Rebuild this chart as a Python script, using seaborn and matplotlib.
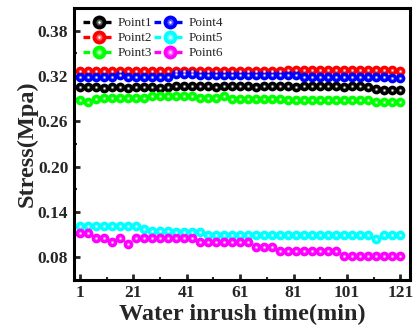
import numpy as np
import pandas as pd
import matplotlib
matplotlib.use("Agg")
import matplotlib.pyplot as plt
import seaborn as sns
from matplotlib.legend_handler import HandlerTuple
from matplotlib.lines import Line2D
from matplotlib.colors import to_rgb

# ---------------- data ----------------
time_min = list(range(1, 122, 3))  # 41 points

point1 = [0.305, 0.305, 0.305, 0.304, 0.305, 0.305, 0.304, 0.305, 0.305, 0.305, 0.304, 0.305,
          0.307, 0.307, 0.307, 0.307, 0.307, 0.306, 0.307, 0.307, 0.307, 0.307, 0.306, 0.307,
          0.307, 0.307, 0.307, 0.306, 0.307, 0.307, 0.307, 0.307, 0.307, 0.306, 0.307, 0.307,
          0.306, 0.303, 0.302, 0.302, 0.302]
point2 = [0.327, 0.327, 0.327, 0.327, 0.327, 0.327, 0.327, 0.327, 0.327, 0.327, 0.327, 0.327,
          0.327, 0.327, 0.327, 0.327, 0.327, 0.327, 0.327, 0.327, 0.327, 0.327, 0.327, 0.327,
          0.327, 0.327, 0.328, 0.328, 0.328, 0.328, 0.328, 0.328, 0.328, 0.328, 0.328, 0.328,
          0.328, 0.328, 0.328, 0.328, 0.327]
point3 = [0.288, 0.286, 0.289, 0.291, 0.291, 0.291, 0.291, 0.291, 0.291, 0.293, 0.293, 0.293,
          0.293, 0.293, 0.293, 0.291, 0.291, 0.291, 0.293, 0.290, 0.290, 0.290, 0.290, 0.290,
          0.290, 0.290, 0.288, 0.288, 0.288, 0.288, 0.288, 0.288, 0.288, 0.288, 0.288, 0.288,
          0.288, 0.285, 0.285, 0.285, 0.285]
point4 = [0.319, 0.319, 0.319, 0.319, 0.319, 0.321, 0.319, 0.319, 0.319, 0.319, 0.319, 0.319,
          0.323, 0.323, 0.323, 0.321, 0.321, 0.321, 0.321, 0.321, 0.321, 0.321, 0.321, 0.321,
          0.321, 0.321, 0.321, 0.321, 0.319, 0.319, 0.319, 0.319, 0.319, 0.319, 0.319, 0.319,
          0.319, 0.319, 0.319, 0.317, 0.317]
point5 = [0.121, 0.121, 0.121, 0.121, 0.121, 0.121, 0.121, 0.121, 0.118, 0.115, 0.115, 0.115,
          0.113, 0.113, 0.113, 0.113, 0.110, 0.110, 0.110, 0.110, 0.110, 0.110, 0.110, 0.110,
          0.110, 0.110, 0.110, 0.110, 0.110, 0.110, 0.110, 0.110, 0.110, 0.110, 0.110, 0.110,
          0.110, 0.104, 0.110, 0.110, 0.110]
point6 = [0.112, 0.112, 0.106, 0.106, 0.100, 0.106, 0.097, 0.106, 0.106, 0.106, 0.106, 0.106,
          0.106, 0.106, 0.106, 0.100, 0.100, 0.100, 0.100, 0.100, 0.100, 0.100, 0.093, 0.093,
          0.093, 0.088, 0.088, 0.088, 0.088, 0.088, 0.088, 0.088, 0.088, 0.081, 0.081, 0.081,
          0.081, 0.081, 0.081, 0.081, 0.081]

series_names = ["Point1", "Point2", "Point3", "Point4", "Point5", "Point6"]
series_values = [point1, point2, point3, point4, point5, point6]
series_colors = ["#000000", "#FF0000", "#00FF00", "#0000FF", "#00FFFF", "#FF00FF"]

x_ticks = [1, 21, 41, 61, 81, 101, 121]
y_ticks = [0.08, 0.14, 0.20, 0.26, 0.32, 0.38]

# ---------------- style ----------------
sns.set_style("ticks")
plt.rcParams["font.family"] = ["Liberation Serif", "DejaVu Serif"]

fig = plt.figure(figsize=(4.13, 3.34), dpi=100)
ax = fig.add_axes([0.179, 0.162, 0.814, 0.814])

def lighten(c, f):
    r, g, b = to_rgb(c)
    return (r + (1 - r) * f, g + (1 - g) * f, b + (1 - b) * f)

handles = []
for name, vals, col in zip(series_names, series_values, series_colors):
    df = pd.DataFrame({"t": time_min, "v": vals})
    sns.lineplot(data=df, x="t", y="v", ax=ax, color=col, linestyle="--", linewidth=1.2,
                 marker="o", markersize=7, markeredgewidth=0, legend=False)
    sns.scatterplot(data=df, x="t", y="v", ax=ax, color=lighten(col, 0.35), s=6,
                    linewidth=0, legend=False, zorder=3)
    sns.scatterplot(data=df, x="t", y="v", ax=ax, color="white", s=1.5,
                    linewidth=0, legend=False, zorder=3)
    h1 = Line2D([], [], color=col, linestyle="--", linewidth=2.4, marker="o",
                markersize=10, markeredgewidth=0, dashes=(2.0, 1.2))
    h2 = Line2D([], [], linestyle="none", marker="o", markersize=4.5,
                color=lighten(col, 0.35), markeredgewidth=0)
    h3 = Line2D([], [], linestyle="none", marker="o", markersize=1.8,
                color="white", markeredgewidth=0)
    handles.append((h1, h2, h3))

ax.set_xlim(-1.3, 124.7)
ax.set_ylim(0.05, 0.41)
ax.set_xticks(x_ticks)
ax.set_yticks(y_ticks)
ax.set_xticks([11, 31, 51, 71, 91, 111], minor=True)
ax.set_yticks([0.11, 0.17, 0.23, 0.29, 0.35], minor=True)
ax.set_xticklabels([str(v) for v in x_ticks], fontsize=12.5, fontweight="bold")
ax.set_yticklabels([f"{v:.2f}" for v in y_ticks], fontsize=12.5, fontweight="bold")
ax.tick_params(which="major", direction="in", length=4, width=2, pad=4)
ax.tick_params(which="minor", direction="in", length=2.5, width=1.5)
ax.tick_params(top=False, right=False)

ax.set_xlabel("Water inrush time(min)", fontsize=17.5, fontweight="bold", labelpad=2)
ax.set_ylabel("Stress(Mpa)", fontsize=17.5, fontweight="bold", labelpad=0)

for sp in ax.spines.values():
    sp.set_linewidth(2.2)
    sp.set_color("black")

leg = ax.legend(handles, series_names, ncol=2, loc="upper left",
                handler_map={tuple: HandlerTuple(ndivide=1)},
                frameon=False, fontsize=9.5, handlelength=2.4, handletextpad=0.2,
                columnspacing=0.15, labelspacing=0.2, borderaxespad=0.3,
                bbox_to_anchor=(0.0, 1.0))

fig.savefig("out.png", dpi=100)
